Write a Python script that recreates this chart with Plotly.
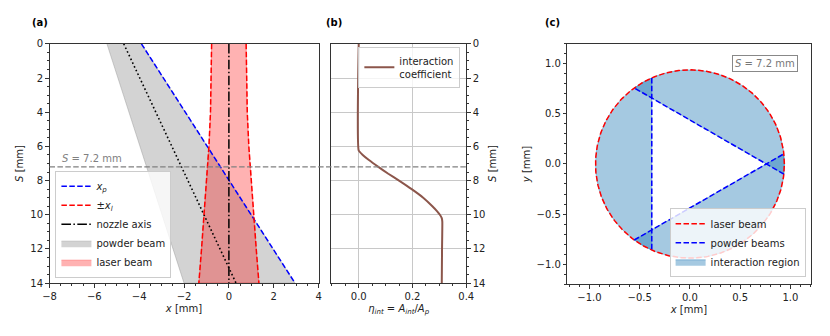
import numpy as np
import plotly.graph_objects as go

# (a) beam geometry along the stand-off distance S [mm]
S_ends = [0, 14]
powder_outer = [-5.44, -2.0]      # outer edge of the powder beam
powder_axis = [-4.69, 0.32]       # dotted centre line of the powder beam
x_p = [-3.90, 2.95]               # inner edge x_p
S_laser = [0, 2, 4, 6, 8, 10, 12, 14]
x_l = [0.77, 0.78, 0.82, 0.89, 0.99, 1.10, 1.22, 1.34]

# (b) interaction coefficient
S_eta = [0, 6.24, 6.5, 6.8, 7.2, 7.6, 8.0, 8.5, 9.0, 9.5, 9.8, 10.0, 10.2, 10.4, 12, 14]
eta = [0, 0, 0.015, 0.038, 0.073, 0.11, 0.15, 0.197, 0.24, 0.274, 0.292, 0.302,
       0.309, 0.311, 0.310, 0.309]

# (c) cross-section at S = 7.2 mm
S_cut = 7.2
R_laser = 0.94
d_powder = 0.38
beam_dirs = [180, 60, 300]

FONT = "DejaVu Sans"
INK = "#222"

fig = go.Figure()

# ---- panel (a)
fig.add_trace(go.Scatter(
    x=powder_outer + x_p[::-1], y=S_ends + S_ends[::-1],
    fill="toself", fillcolor="rgba(128,128,128,0.35)", mode="lines",
    line=dict(color="rgba(128,128,128,0.35)", width=1),
    name="powder beam", legend="legend", legendrank=4, hoverinfo="skip"))

xl = np.array(x_l)
fig.add_trace(go.Scatter(
    x=list(-xl) + list(xl[::-1]), y=S_laser + S_laser[::-1],
    fill="toself", fillcolor="rgba(255,0,0,0.3)", mode="lines",
    line=dict(color="rgba(255,0,0,0.3)", width=1),
    name="laser beam", legend="legend", legendrank=5, hoverinfo="skip"))

fig.add_trace(go.Scatter(
    x=powder_axis, y=S_ends, mode="lines", showlegend=False,
    line=dict(color="black", width=1.6, dash="1.6px,2.5px")))

fig.add_trace(go.Scatter(
    x=x_p, y=S_ends, mode="lines", name="<i>x</i><sub><i>p</i></sub>",
    legend="legend", legendrank=1,
    line=dict(color="blue", width=1.5, dash="5.5px,2.4px")))

fig.add_trace(go.Scatter(
    x=list(-xl) + [None] + list(xl), y=S_laser + [None] + S_laser,
    mode="lines", name="±<i>x</i><sub><i>l</i></sub>",
    legend="legend", legendrank=2,
    line=dict(color="red", width=1.5, dash="5.5px,2.4px")))

fig.add_trace(go.Scatter(
    x=[0, 0], y=S_ends, mode="lines", name="nozzle axis",
    legend="legend", legendrank=3,
    line=dict(color="black", width=1.5, dash="9.6px,2.4px,1.5px,2.4px")))

# ---- panel (b)
fig.add_trace(go.Scatter(
    x=eta, y=S_eta, mode="lines", name="interaction<br>coefficient",
    legend="legend2", xaxis="x2", yaxis="y2",
    line=dict(color="#8c564b", width=2, shape="spline", smoothing=0.4)))

# ---- panel (c)
theta = np.linspace(0, 2 * np.pi, 361)
alpha = np.arccos(d_powder / R_laser)
chord_x, chord_y = [], []
for k, b in enumerate(beam_dirs):
    c = np.deg2rad(b)
    arc = np.linspace(c - alpha, c + alpha, 80)
    px = R_laser * np.cos(arc)
    py = R_laser * np.sin(arc)
    fig.add_trace(go.Scatter(
        x=list(px) + [px[0]], y=list(py) + [py[0]], fill="toself",
        fillcolor="rgba(31,119,180,0.4)", mode="lines",
        line=dict(color="rgba(31,119,180,0.4)", width=1),
        name="interaction region", legend="legend3", legendrank=3,
        showlegend=(k == 0), xaxis="x3", yaxis="y3", hoverinfo="skip"))
    chord_x += [px[0], px[-1], None]
    chord_y += [py[0], py[-1], None]

fig.add_trace(go.Scatter(
    x=R_laser * np.cos(theta), y=R_laser * np.sin(theta), mode="lines",
    name="laser beam", legend="legend3", legendrank=1, xaxis="x3", yaxis="y3",
    line=dict(color="red", width=1.5, dash="5.5px,2.4px")))
fig.add_trace(go.Scatter(
    x=chord_x, y=chord_y, mode="lines", name="powder beams",
    legend="legend3", legendrank=2, xaxis="x3", yaxis="y3",
    line=dict(color="blue", width=1.5, dash="5.5px,2.4px")))


def axis(title, **kw):
    d = dict(showline=True, mirror=True, linecolor="#333", linewidth=1,
             ticks="outside", ticklen=3.5, tickwidth=1, tickcolor="#333",
             showgrid=False, zeroline=False,
             tickfont=dict(size=10, color=INK),
             title=dict(text=title, font=dict(size=10, color=INK), standoff=4))
    d.update(kw)
    return d


def minor(step):
    return dict(dtick=step, ticks="outside", ticklen=2, tickcolor="#333")


ya_dom = [1 - 286.7 / 336, 1 - 40 / 336]
legend_style = dict(bgcolor="rgba(255,255,255,0.8)", bordercolor="#cccccc",
                    borderwidth=1, font=dict(size=10, color=INK), itemwidth=30,
                    tracegroupgap=0)

fig.update_layout(
    width=830, height=336, margin=dict(l=0, r=0, t=0, b=0),
    paper_bgcolor="white", plot_bgcolor="white",
    font=dict(family=FONT, size=10, color=INK),
    xaxis=axis("<i>x</i> [mm]", domain=[43.3 / 830, 317.3 / 830], anchor="y",
               range=[-8, 4], dtick=2, tick0=0, minor=minor(0.5)),
    yaxis=axis("<i>S</i> [mm]", domain=ya_dom, anchor="x",
               range=[14.001, -0.001], dtick=2, tick0=0, minor=minor(0.5)),
    xaxis2=axis("<i>η</i><sub><i>int</i></sub> = <i>A</i><sub><i>int</i></sub>/<i>A</i><sub><i>p</i></sub>",
                domain=[330 / 830, 467.7 / 830], anchor="y2",
                range=[-0.103, 0.4001], dtick=0.2, tick0=0, tickformat=".1f",
                minor=minor(0.05), showgrid=True, gridcolor="#c8c8c8", gridwidth=1),
    yaxis2=axis("<i>S</i> [mm]", domain=ya_dom, anchor="x2", side="right",
                range=[14.001, -0.001], dtick=2, tick0=0, minor=minor(0.5),
                showgrid=True, gridcolor="#c8c8c8", gridwidth=1),
    xaxis3=axis("<i>x</i> [mm]", domain=[570.7 / 830, 818.3 / 830], anchor="y3",
                range=[-1.22, 1.2], dtick=0.5, tick0=0, tickformat=".1f",
                minor=minor(0.1)),
    yaxis3=axis("<i>y</i> [mm]", domain=[1 - 287.7 / 336, 1 - 40 / 336], anchor="x3",
                range=[-1.2, 1.2], dtick=0.5, tick0=0, tickformat=".1f",
                minor=minor(0.1)),
    legend=dict(x=49.3 / 830, y=1 - 281 / 336, xanchor="left", yanchor="bottom",
                **legend_style),
    legend2=dict(x=461.7 / 830, y=1 - 43 / 336, xanchor="right", yanchor="top",
                 **legend_style),
    legend3=dict(x=813.3 / 830, y=1 - 280.7 / 336, xanchor="right", yanchor="bottom",
                 **legend_style),
    showlegend=True,
)

# S = 7.2 mm cut, running through panels (a) and (b)
fig.add_shape(type="line", xref="paper", yref="y", x0=43.3 / 830, x1=467.7 / 830,
              y0=S_cut, y1=S_cut, layer="above",
              line=dict(color="#808080", width=1.3, dash="5.5px,2.4px"))

fig.add_annotation(x=-7.55, y=S_cut, xref="x", yref="y", xanchor="left",
                   yanchor="bottom", yshift=1, showarrow=False,
                   text=f"<i>S</i> = {S_cut} mm", font=dict(size=10, color="#808080"))
fig.add_annotation(x=0.75, y=1.0, xref="x3", yref="y3", showarrow=False,
                   text=f"<i>S</i> = {S_cut} mm", font=dict(size=10, color="#777"),
                   bordercolor="#888", borderwidth=1, borderpad=2, bgcolor="white")

for lab, px in [("(a)", 23), ("(b)", 323), ("(c)", 546)]:
    fig.add_annotation(x=px / 830, y=1 - 18 / 336, xref="paper", yref="paper",
                       xanchor="left", yanchor="middle", showarrow=False,
                       text=f"<b>{lab}</b>", font=dict(size=10, color="black"))

fig.write_html("out.html", config={"displayModeBar": False},
               post_script="document.body.style.margin='0';")
